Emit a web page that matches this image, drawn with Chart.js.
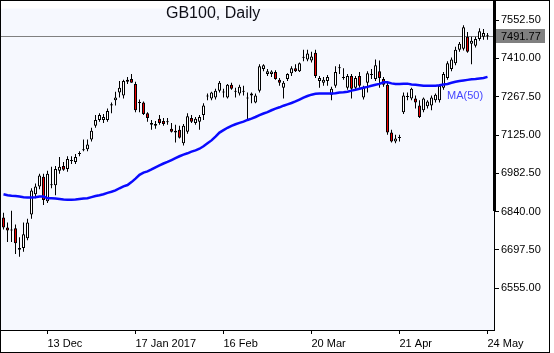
<!DOCTYPE html>
<html><head><meta charset="utf-8">
<script src="https://cdn.jsdelivr.net/npm/chart.js@4/dist/chart.umd.min.js"></script>
<style>html,body{margin:0;padding:0;background:#fff;overflow:hidden}canvas{display:block}</style>
</head><body>
<canvas id="c" width="554" height="353"></canvas>
<script>
const chartTitle = 'GB100, Daily';
const maLabel = 'MA(50)';
const lastPrice = 7491.77;
const xTickIndex = [11, 33, 55, 77, 99, 121];
const xTickLabels = ['13 Dec', '17 Jan 2017', '16 Feb', '20 Mar', '21 Apr', '24 May'];
const yTicks = [6555, 6697.5, 6840, 6982.5, 7125, 7267.5, 7410, 7552.5];

const opens = [6818,6781,6770,6778,6698,6705,6741,6829,6905,6934,
 6970,6879,6938,6938,6992,7010,6999,7028,7025,7054,
 7068,7072,7108,7159,7181,7181,7181,7235,7254,7283,
 7272,7323,7333,7315,7244,7246,7206,7163,7159,7185,
 7177,7174,7148,7141,7145,7094,7137,7188,7170,7174,
 7199,7268,7261,7264,7290,7283,7264,7312,7286,7279,
 7286,7261,7272,7246,7290,7370,7352,7352,7359,7330,
 7301,7333,7355,7373,7362,7412,7406,7402,7431,7326,
 7319,7326,7275,7308,7373,7337,7301,7344,7301,7344,
 7264,7319,7348,7333,7362,7333,7312,7134,7101,7114,
 7210,7266,7261,7261,7235,7217,7232,7235,7254,7254,
 7301,7337,7370,7392,7442,7446,7490,7464,7457,7482,
 7490,7493];
const highs = [6836,6800,6843,6792,6745,6800,6814,6927,6945,6981,
 6981,6992,7007,7010,7043,7025,7046,7046,7054,7065,
 7108,7108,7152,7199,7206,7203,7224,7246,7286,7326,
 7330,7341,7352,7323,7257,7250,7210,7181,7177,7199,
 7188,7188,7170,7163,7159,7166,7206,7199,7192,7199,
 7243,7279,7286,7297,7326,7297,7315,7319,7301,7312,
 7308,7283,7283,7279,7388,7388,7370,7366,7366,7337,
 7326,7355,7381,7388,7395,7442,7442,7435,7442,7344,
 7341,7348,7304,7381,7388,7373,7352,7352,7344,7359,
 7308,7362,7370,7406,7402,7341,7319,7145,7126,7126,
 7283,7283,7301,7272,7254,7264,7254,7272,7279,7315,
 7359,7399,7413,7453,7471,7533,7508,7490,7490,7522,
 7519,7504];
const lows = [6774,6727,6727,6683,6672,6691,6734,6814,6890,6923,
 6865,6872,6927,6901,6981,6992,6988,7017,7017,7046,
 7065,7065,7101,7152,7174,7170,7174,7206,7235,7264,
 7261,7315,7319,7210,7210,7199,7174,7145,7148,7163,
 7159,7163,7134,7097,7112,7086,7130,7170,7163,7145,
 7181,7254,7254,7257,7283,7264,7261,7293,7264,7272,
 7272,7181,7243,7243,7283,7362,7344,7341,7330,7308,
 7261,7326,7344,7359,7359,7399,7399,7395,7337,7301,
 7308,7308,7254,7301,7352,7330,7293,7261,7293,7301,
 7257,7283,7333,7326,7301,7304,7126,7097,7094,7101,
 7203,7254,7254,7224,7188,7210,7224,7217,7246,7246,
 7293,7330,7362,7384,7435,7439,7431,7388,7450,7475,
 7479,7479];
const closes = [6781,6770,6772,6723,6705,6756,6800,6919,6934,6974,
 6883,6981,6941,6999,7007,6996,7036,7032,7043,7057,
 7072,7090,7141,7181,7199,7192,7214,7239,7264,7301,
 7326,7330,7319,7217,7246,7203,7188,7170,7166,7170,
 7166,7172,7137,7134,7115,7159,7195,7174,7185,7192,
 7235,7270,7283,7290,7319,7284,7312,7297,7288,7304,
 7288,7263,7279,7272,7381,7384,7362,7361,7333,7319,
 7319,7352,7373,7362,7392,7413,7428,7417,7344,7337,
 7330,7341,7297,7359,7375,7339,7344,7297,7337,7308,
 7301,7355,7350,7384,7337,7312,7134,7101,7112,7115,
 7272,7268,7297,7246,7192,7261,7250,7264,7275,7308,
 7352,7392,7406,7442,7464,7526,7435,7475,7482,7511,
 7504,7491.77];
const ma50 = [6905,6901,6899,6898,6896,6894,6893,6893,6894,6896,
 6896,6890,6890,6889,6887,6885,6884,6884,6885,6887,
 6889,6890,6894,6898,6901,6905,6910,6914,6919,6927,
 6934,6939,6950,6963,6977,6985,6990,6997,7005,7012,
 7019,7025,7032,7039,7046,7052,7057,7063,7068,7074,
 7083,7094,7105,7119,7134,7143,7152,7159,7165,7170,
 7175,7181,7186,7192,7199,7205,7210,7217,7223,7228,
 7234,7239,7244,7250,7257,7264,7270,7275,7278,7279,
 7279,7279,7279,7280,7283,7284,7286,7290,7293,7297,
 7301,7304,7308,7312,7315,7321,7321,7317,7315,7315,
 7316,7316,7313,7312,7310,7308,7308,7308,7308,7310,
 7313,7315,7319,7323,7326,7328,7330,7332,7333,7335,
 7337,7341];

const FONT = '"Liberation Sans", Arial, sans-serif';
const idx = closes.map((_, i) => i);

const deco = {
  id: 'deco',
  beforeDraw(chart) {
    const { ctx, chartArea: a } = chart;
    ctx.save();
    ctx.fillStyle = '#ffffff';
    ctx.fillRect(0, 0, chart.width, chart.height);
    ctx.fillStyle = '#F6F8FE';
    ctx.fillRect(a.left, a.top, a.right - a.left, a.bottom - a.top);
    const y = Math.round(chart.scales.y.getPixelForValue(lastPrice)) + 0.5;
    ctx.strokeStyle = '#808080';
    ctx.lineWidth = 1;
    ctx.beginPath(); ctx.moveTo(a.left, y); ctx.lineTo(a.right, y); ctx.stroke();
    ctx.fillStyle = '#101018';
    ctx.font = '16px ' + FONT;
    ctx.textBaseline = 'alphabetic';
    ctx.textAlign = 'left';
    ctx.fillText(chartTitle, 166, 18);
    ctx.restore();
  },
  afterDraw(chart) {
    const { ctx, chartArea: a } = chart;
    ctx.save();
    ctx.font = '11px ' + FONT;
    ctx.textBaseline = 'middle';
    ctx.textAlign = 'left';
    ctx.fillStyle = '#4646ff';
    ctx.fillText(maLabel, 447, 96);
    ctx.fillStyle = '#000';
    ctx.fillRect(a.right - 1, 0, 3, 211);
    const y = Math.round(chart.scales.y.getPixelForValue(lastPrice));
    ctx.fillStyle = '#808080';
    ctx.fillRect(496, y - 7, 49, 14);
    ctx.fillStyle = '#000';
    ctx.fillText(lastPrice.toFixed(2), 501, y + 0.5);
    ctx.strokeStyle = '#000';
    ctx.lineWidth = 1;
    ctx.strokeRect(0.5, 0.5, 549, 352);
    ctx.restore();
  }
};

new Chart(document.getElementById('c'), {
  type: 'bar',
  data: {
    datasets: [
      { type: 'line', data: idx.map(i => ({ x: i, y: ma50[i] })), borderColor: '#0a0aff', borderWidth: 2.5,
        pointRadius: 0, tension: 0, fill: false, order: 0 },
      { type: 'bar', data: idx.map(i => ({ x: i, y: [opens[i], closes[i]] })),
        backgroundColor: idx.map(i => closes[i] >= opens[i] ? '#ffffff' : '#ee0000'),
        borderColor: '#000', borderWidth: 1, borderSkipped: false, barThickness: 3, minBarLength: 1,
        inflateAmount: 0, grouped: false, order: 1 },
      { type: 'bar', data: idx.map(i => ({ x: i, y: [lows[i], highs[i]] })),
        backgroundColor: '#000', borderWidth: 0, barThickness: 1, inflateAmount: 0, grouped: false, order: 2 }
    ]
  },
  options: {
    responsive: false, animation: false, devicePixelRatio: 1,
    layout: { padding: { left: 1, top: 1, right: 5, bottom: 1 } },
    plugins: { legend: { display: false }, tooltip: { enabled: false } },
    scales: {
      x: {
        type: 'linear', min: -0.625, max: 122.625, offset: false,
        afterBuildTicks: s => { s.ticks = xTickIndex.map(v => ({ value: v })); },
        afterFit: s => { s.height = 22; },
        ticks: { autoSkip: false, maxRotation: 0, minRotation: 0, align: 'start', padding: 3, color: '#000',
          font: { family: FONT, size: 11 },
          callback: v => { const k = xTickIndex.indexOf(v); return k >= 0 ? xTickLabels[k] : ''; } },
        grid: { drawOnChartArea: false, drawTicks: true, tickLength: 4, color: '#000', offset: false },
        border: { display: true, color: '#000', width: 1 }
      },
      y: {
        type: 'linear', position: 'right', min: 6400, max: 7595,
        afterBuildTicks: s => { s.ticks = yTicks.map(v => ({ value: v })); },
        afterFit: s => { s.width = 55; },
        ticks: { padding: 2, color: '#000', font: { family: FONT, size: 11 }, callback: v => Number(v).toFixed(2) },
        grid: { drawOnChartArea: false, drawTicks: true, tickLength: 5, color: '#000' },
        border: { display: true, color: '#000', width: 1 }
      }
    }
  },
  plugins: [deco]
});
</script>
</body></html>
